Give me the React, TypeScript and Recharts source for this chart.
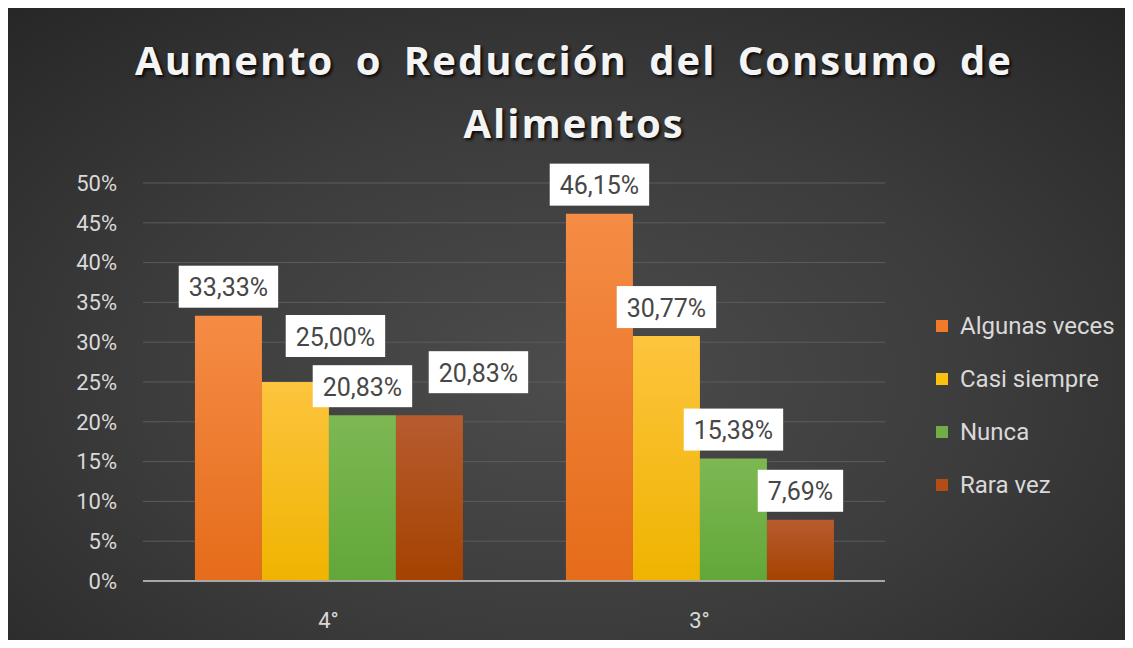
import React from 'react';
import { BarChart, Bar, XAxis, YAxis, CartesianGrid, Legend, LabelList } from 'recharts';

const categories = ['4°', '3°'];
const algunasVeces = [33.33, 46.15];
const casiSiempre = [25.0, 30.77];
const nunca = [20.83, 15.38];
const raraVez = [20.83, 7.69];
const yTicks = [0, 5, 10, 15, 20, 25, 30, 35, 40, 45, 50];

const seriesDefs = [
  { key: 'algunas', name: 'Algunas veces', values: algunasVeces, top: '#f58c45', bottom: '#e56c1a', swatch: '#f07a2a' },
  { key: 'casi', name: 'Casi siempre', values: casiSiempre, top: '#fdc43e', bottom: '#efb400', swatch: '#fcc010' },
  { key: 'nunca', name: 'Nunca', values: nunca, top: '#7db853', bottom: '#62a739', swatch: '#70ad47' },
  { key: 'rara', name: 'Rara vez', values: raraVez, top: '#b75c2f', bottom: '#a54200', swatch: '#b04e16' },
];

const data = categories.map((c, i) => {
  const row: any = { cat: c };
  seriesDefs.forEach((s) => (row[s.key] = s.values[i]));
  return row;
});

// label nudges (Excel moved some labels to avoid overlap)
const labelNudge: Record<string, [number, number][]> = {
  casi: [[40, -17], [0, 0]],
  rara: [[49, -14], [0, 0]],
};

const fmt = (v: number) => v.toFixed(2).replace('.', ',') + '%';
const charW: Record<string, number> = { ',': 0.197, '%': 0.733 };
const textWidth = (t: string, fs: number) =>
  t.split('').reduce((a, ch) => a + (charW[ch] ?? 0.562), 0) * fs;

const makeLabel = (key: string) => (props: any) => {
  const { x, y, width, value, index } = props;
  const nudge = labelNudge[key]?.[index] ?? [0, 0];
  const text = fmt(Number(value));
  const fs = 25;
  const bw = textWidth(text, fs) + 20;
  const bh = 42;
  const cx = Number(x) + Number(width) / 2 + nudge[0];
  const bottom = Number(y) - 8 + nudge[1];
  return (
    <g>
      <rect x={cx - bw / 2} y={bottom - bh} width={bw} height={bh} fill="#ffffff" />
      <text
        x={cx}
        y={bottom - bh / 2 + 1}
        textAnchor="middle"
        dominantBaseline="central"
        fontFamily="Roboto"
        fontSize={fs}
        fill="#474747"
      >
        {text}
      </text>
    </g>
  );
};

const renderLegend = () => (
  <div style={{ fontFamily: 'Roboto', fontSize: 24, color: '#d9d9d9' }}>
    {seriesDefs.map((s) => (
      <div key={s.key} style={{ height: 53, display: 'flex', alignItems: 'center' }}>
        <div style={{ width: 12, height: 12, background: s.swatch, marginRight: 12 }} />
        <span>{s.name}</span>
      </div>
    ))}
  </div>
);

export default function App() {
  return (
    <div style={{ position: 'relative', width: 1133, height: 648, margin: -8, background: '#ffffff' }}>
      <div
        style={{
          position: 'absolute',
          left: 5,
          top: 7,
          width: 1122,
          height: 639,
          background: 'radial-gradient(ellipse 75% 80% at 50% 58%, #4c4c4c 0%, #3c3c3c 50%, #262626 100%)',
          overflow: 'hidden',
        }}
      >
        <div
          style={{
            position: 'absolute',
            left: 8,
            top: 21,
            width: 1122,
            textAlign: 'center',
            fontFamily: '"Open Sans"',
            fontWeight: 700,
            fontSize: 40,
            lineHeight: '63px',
            letterSpacing: 2,
            wordSpacing: 9,
            color: '#f4f4f4',
            textShadow: '2px 2px 3px rgba(0,0,0,0.85)',
          }}
        >
          Aumento o Reducción del Consumo de
          <br />
          Alimentos
        </div>
        <BarChart
          width={1122}
          height={639}
          data={data}
          margin={{ top: 176, right: 242, bottom: 0, left: 0 }}
          barCategoryGap="14%"
          barGap={0}
        >
          <defs>
            {seriesDefs.map((s) => (
              <linearGradient key={s.key} id={`grad-${s.key}`} x1="0" y1="0" x2="0" y2="1">
                <stop offset="0%" stopColor={s.top} />
                <stop offset="100%" stopColor={s.bottom} />
              </linearGradient>
            ))}
          </defs>
          <CartesianGrid vertical={false} stroke="#5c5c5c" strokeWidth={1} />
          <XAxis
            dataKey="cat"
            height={65}
            tickLine={false}
            tickSize={0}
            tickMargin={31}
            axisLine={{ stroke: '#a8a8a8', strokeWidth: 2 }}
            tick={{ fill: '#d9d9d9', fontSize: 22, fontFamily: 'Roboto' }}
          />
          <YAxis
            width={138}
            domain={[0, 50]}
            ticks={yTicks}
            interval={0}
            tickFormatter={(v: number) => `${v}%`}
            tickLine={false}
            tickSize={0}
            tickMargin={26}
            axisLine={false}
            tick={{ fill: '#d9d9d9', fontSize: 22, fontFamily: 'Roboto' }}
          />
          <Legend
            layout="vertical"
            verticalAlign="middle"
            align="center"
            content={renderLegend}
            wrapperStyle={{ left: 931, top: 292, width: 190 }}
          />
          {seriesDefs.map((s) => (
            <Bar key={s.key} dataKey={s.key} name={s.name} fill={`url(#grad-${s.key})`} isAnimationActive={false}>
              <LabelList dataKey={s.key} content={makeLabel(s.key)} />
            </Bar>
          ))}
        </BarChart>
      </div>
    </div>
  );
}
